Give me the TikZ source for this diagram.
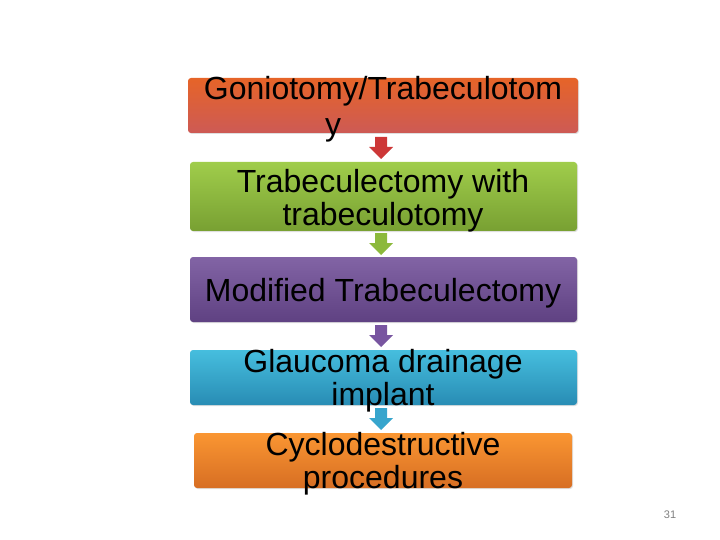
\documentclass[tikz,border=0pt]{standalone}
\usepackage{fontspec}
\setmainfont{Liberation Sans}
\usetikzlibrary{shadows}
\tikzset{
  stage/.style={rounded corners=3pt, minimum height=#1, inner sep=0pt,
    drop shadow={shadow xshift=1pt, shadow yshift=-1pt, opacity=0.25}},
  lbl/.style={font=\fontsize{32}{33}\selectfont, inner sep=0pt, align=center}
}
\newcommand\dnarr[3]{% x, top y, colour
  \fill[#3] (#1-6,#2) -- (#1+6,#2) -- (#1+6,#2+10) -- (#1+12,#2+10) -- (#1,#2+22) -- (#1-12,#2+10) -- (#1-6,#2+10) -- cycle;}
\definecolor{rTop}{RGB}{230,100,40}
\definecolor{rBot}{RGB}{205,90,85}
\definecolor{gTop}{RGB}{160,205,75}
\definecolor{gBot}{RGB}{120,160,50}
\definecolor{pTop}{RGB}{130,100,165}
\definecolor{pBot}{RGB}{95,65,130}
\definecolor{bTop}{RGB}{70,190,222}
\definecolor{bBot}{RGB}{40,140,180}
\definecolor{oTop}{RGB}{250,150,50}
\definecolor{oBot}{RGB}{215,110,35}
\definecolor{rArr}{RGB}{205,55,55}
\definecolor{gArr}{RGB}{140,185,60}
\definecolor{pArr}{RGB}{120,85,160}
\definecolor{bArr}{RGB}{55,165,205}
\begin{document}
\begin{tikzpicture}[x=1pt,y=-1pt]
\useasboundingbox (0,0) rectangle (720,540);
% boxes
\node[stage=55pt, top color=rTop, bottom color=rBot, minimum width=390pt] (b1) at (383,105.5) {};
\node[stage=69pt, top color=gTop, bottom color=gBot, minimum width=387pt] (b2) at (383.5,196.5) {};
\node[stage=65pt, top color=pTop, bottom color=pBot, minimum width=387pt] (b3) at (383.5,289.5) {};
\node[stage=55pt, top color=bTop, bottom color=bBot, minimum width=387pt] (b4) at (383.5,377.5) {};
\node[stage=55pt, top color=oTop, bottom color=oBot, minimum width=378pt] (b5) at (383,460.5) {};
% arrows
\dnarr{381}{137}{rArr}
\dnarr{381}{233}{gArr}
\dnarr{381}{325}{pArr}
\dnarr{381}{408}{bArr}
% texts
\node[lbl] (t1a) at (383,91.5) {Goniotomy/Trabeculotom};
\node[lbl] (t1b) at (333,130) {y};
\node[lbl] (t2) at (383,201) {Trabeculectomy with\\trabeculotomy};
\node[lbl] (t3) at (383,293.5) {Modified Trabeculectomy};
\node[lbl] (t4) at (383,381) {Glaucoma drainage\\implant};
\node[lbl] (t5) at (383,464) {Cyclodestructive\\procedures};
\node[font=\fontsize{11}{13}\selectfont, text=gray] (pg) at (670,515) {31};
\end{tikzpicture}
\end{document}
